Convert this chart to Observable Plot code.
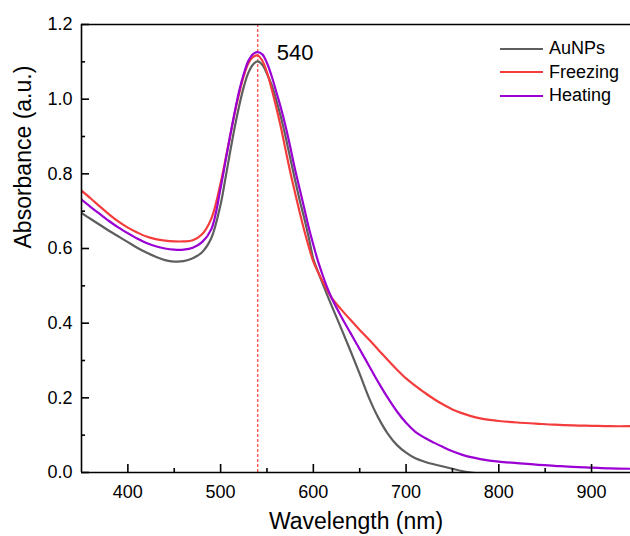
<!DOCTYPE html>
<html><head><meta charset="utf-8">
<script src="https://cdn.jsdelivr.net/npm/d3@7"></script>
<script src="https://cdn.jsdelivr.net/npm/@observablehq/plot@0.6"></script>
<style>
html,body{margin:0;padding:0;background:#fff;}
#wrap{position:relative;width:630px;height:536px;overflow:hidden;font-family:"Liberation Sans",Arial,sans-serif;}
#legend{position:absolute;left:500px;top:37px;font-size:18px;color:#000;}
.row{display:flex;align-items:center;height:23.5px;}
.sw{width:43px;height:2px;margin-right:6px;}
</style></head><body><div id="wrap"></div>
<script>
const wavelengths = [350,360,370,380,390,400,410,420,430,440,450,460,470,480,490,500,
  505,510,515,520,525,530,535,540,545,550,555,560,565,570,575,580,585,590,595,600,
  605,610,615,620,630,640,650,660,670,680,690,700,710,720,730,740,750,760,770,780,790,800,
  820,840,860,880,900,920,942];
const auNPs = [0.695,0.679,0.663,0.647,0.632,0.617,0.602,0.589,0.578,0.569,0.565,0.566,0.574,0.590,0.628,0.718,
  0.785,0.855,0.922,0.982,1.033,1.071,1.093,1.101,1.092,1.068,1.038,0.998,0.952,0.900,0.843,0.787,0.732,0.683,0.630,0.572,
  0.538,0.506,0.475,0.445,0.386,0.326,0.264,0.200,0.147,0.105,0.074,0.053,0.038,0.029,0.022,0.016,0.010,0.004,0.000,-0.003,-0.005,-0.006,
  -0.008,-0.009,-0.010,-0.010,-0.010,-0.010,-0.010];
const freezing = [0.755,0.734,0.712,0.691,0.672,0.656,0.643,0.632,0.625,0.621,0.619,0.619,0.622,0.638,0.680,0.775,
  0.835,0.898,0.960,1.015,1.062,1.096,1.113,1.117,1.103,1.072,1.028,0.978,0.925,0.865,0.806,0.752,0.700,0.650,0.605,0.565,
  0.537,0.512,0.488,0.467,0.437,0.409,0.382,0.356,0.329,0.302,0.276,0.252,0.232,0.214,0.197,0.182,0.169,0.159,0.151,0.145,0.141,0.138,
  0.134,0.131,0.128,0.126,0.125,0.124,0.124];
const heating = [0.731,0.711,0.692,0.673,0.656,0.641,0.627,0.615,0.606,0.600,0.597,0.597,0.602,0.617,0.652,0.762,
  0.830,0.898,0.963,1.022,1.068,1.103,1.121,1.126,1.120,1.097,1.062,1.020,0.977,0.928,0.873,0.815,0.762,0.710,0.657,0.610,
  0.566,0.529,0.495,0.466,0.418,0.374,0.330,0.286,0.242,0.201,0.164,0.133,0.109,0.093,0.080,0.068,0.057,0.048,0.041,0.036,0.032,0.029,
  0.025,0.021,0.018,0.015,0.013,0.011,0.010];
const seriesNames = ["AuNPs","Freezing","Heating"];
const seriesColors = ["#5e5e5e","#f43c3c","#9a00d4"];
const peakWavelength = 540;
const peakLabel = "540";
const xMajorTicks = [400,500,600,700,800,900];
const xMinorTicks = [450,550,650,750,850];
const yMajorTicks = [0,0.2,0.4,0.6,0.8,1.0,1.2];
const yMinorTicks = [0.1,0.3,0.5,0.7,0.9,1.1];
const xTitle = "Wavelength (nm)";
const yTitle = "Absorbance (a.u.)";

const W = 630, H = 536, mL = 81, mR = 0, mT = 24, mB = 64;
const plotW = W - mL - mR, plotH = H - mT - mB;
const xDomain = [350, 942], yDomain = [0, 1.2];

const seriesValues = [auNPs, freezing, heating];
const rows = [];
seriesNames.forEach((name, i) => {
  wavelengths.forEach((w, j) => rows.push({series: name, wl: w, a: seriesValues[i][j]}));
});

const xTickMark = (ticks, len) => Plot.tickX(ticks, {x: d => d, insetTop: plotH - len, stroke: "#000", strokeWidth: 1.6});
const yTickMark = (ticks, len) => Plot.tickY(ticks, {y: d => d, insetRight: plotW - len, stroke: "#000", strokeWidth: 1.6});

const font = '"Liberation Sans", Arial, sans-serif';
const chart = Plot.plot({
  width: W, height: H,
  marginLeft: mL, marginRight: mR, marginTop: mT, marginBottom: mB,
  style: {background: "white", fontFamily: font, fontSize: "18px"},
  x: {domain: xDomain, ticks: xMajorTicks, tickSize: 0, tickPadding: 13, label: null},
  y: {domain: yDomain, ticks: yMajorTicks, tickSize: 0, tickPadding: 9, tickFormat: ".1f", label: null},
  color: {domain: seriesNames, range: seriesColors},
  marks: [
    Plot.ruleX([peakWavelength], {stroke: "#ff5a5a", strokeWidth: 1.4, strokeDasharray: "3,2"}),
    Plot.line(rows, {x: "wl", y: "a", z: "series", stroke: "series", strokeWidth: 2.2, curve: "catmull-rom", clip: true}),
    Plot.ruleY([yDomain[0]], {stroke: "black", strokeWidth: 1.6}),
    Plot.ruleY([yDomain[1]], {stroke: "black", strokeWidth: 1.6}),
    Plot.ruleX([xDomain[0]], {stroke: "black", strokeWidth: 1.6}),
    xTickMark(xMajorTicks, 8),
    xTickMark(xMinorTicks, 4),
    yTickMark(yMajorTicks, 8),
    yTickMark(yMinorTicks, 4),
    Plot.text([peakLabel], {x: peakWavelength, y: 1.125, text: d => d, dx: 19, textAnchor: "start", fontSize: 22, fill: "black"}),
    Plot.text([xTitle], {frameAnchor: "bottom", text: d => d, dy: 56, fontSize: 23, fill: "black"}),
    Plot.text([yTitle], {frameAnchor: "left", text: d => d, dx: -58, rotate: -90, fontSize: 23, fill: "black"})
  ]
});
const wrap = document.getElementById("wrap");
wrap.appendChild(chart);
const legend = document.createElement("div");
legend.id = "legend";
seriesNames.forEach((n, i) => {
  const r = document.createElement("div"); r.className = "row";
  const s = document.createElement("div"); s.className = "sw"; s.style.background = seriesColors[i];
  const t = document.createElement("span"); t.textContent = n;
  r.appendChild(s); r.appendChild(t); legend.appendChild(r);
});
wrap.appendChild(legend);
</script></body></html>
